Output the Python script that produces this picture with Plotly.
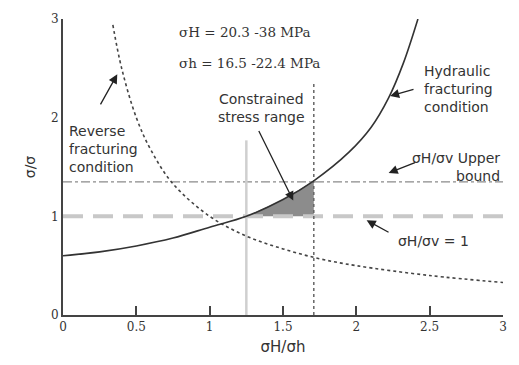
import plotly.graph_objects as go

# Data
hyd_x = [0.0, 0.25, 0.5, 0.75, 1.0, 1.25, 1.5, 1.71, 1.95, 2.10, 2.22, 2.32, 2.42]
hyd_y = [0.60, 0.64, 0.70, 0.78, 0.89, 1.00, 1.17, 1.36, 1.65, 1.90, 2.20, 2.55, 3.00]

rev_x = [0.34, 0.4, 0.5, 0.6, 0.75, 1.0, 1.25, 1.5, 1.75, 2.0, 2.5, 3.0]
rev_y = [2.94, 2.5, 2.0, 1.67, 1.33, 1.0, 0.80, 0.67, 0.57, 0.50, 0.40, 0.33]

unit_ratio = 1.0        # sigmaH/sigmav = 1
upper_bound = 1.35      # sigmaH/sigmav upper bound
range_lo = 1.25
range_hi = 1.71
range_lo_top = 1.77
range_hi_top = 2.37

x_ticks = [0, 0.5, 1, 1.5, 2, 2.5, 3]
x_tick_text = ["0", "0.5", "1", "1.5", "2", "2.5", "3"]
y_ticks = [0, 1, 2, 3]
y_tick_text = ["0", "1", "2", "3"]

fig = go.Figure()

# shaded constrained region
fx = [x for x in hyd_x if range_lo <= x <= range_hi]
fy = [y for x, y in zip(hyd_x, hyd_y) if range_lo <= x <= range_hi]
poly_x = fx + [range_hi, range_lo]
poly_y = fy + [unit_ratio, unit_ratio]
fig.add_trace(go.Scatter(x=poly_x, y=poly_y, fill="toself", fillcolor="#8c8c8c",
                         line=dict(width=0), mode="lines", hoverinfo="skip"))

# horizontal lines
fig.add_trace(go.Scatter(x=[0, 3], y=[unit_ratio, unit_ratio], mode="lines",
                         line=dict(color="#c8c8c8", width=4, dash="20px,10px")))
fig.add_trace(go.Scatter(x=[0, 3], y=[upper_bound, upper_bound], mode="lines",
                         line=dict(color="#8a8a8a", width=1.3, dash="dashdot")))
# vertical lines
fig.add_trace(go.Scatter(x=[range_lo, range_lo], y=[0, range_lo_top], mode="lines",
                         line=dict(color="#cfcfcf", width=2.5)))
fig.add_trace(go.Scatter(x=[range_hi, range_hi], y=[0, range_hi_top], mode="lines",
                         line=dict(color="#666666", width=1.5, dash="dot")))

# curves
fig.add_trace(go.Scatter(x=rev_x, y=rev_y, mode="lines", line_shape="spline",
                         line=dict(color="#444444", width=1.6, dash="dot")))
fig.add_trace(go.Scatter(x=hyd_x, y=hyd_y, mode="lines", line_shape="spline",
                         line=dict(color="#333333", width=1.6)))

serif = "DejaVu Serif"
sans = "DejaVu Sans"
tc = "#333333"

ann = []
def text(x, y, s, font=sans, size=14, align="left", xanchor="left"):
    ann.append(dict(x=x, y=y, xref="x", yref="y", text=s, showarrow=False,
                    font=dict(family=font, size=size, color=tc), align=align,
                    xanchor=xanchor, yanchor="middle"))

def arrow(x, y, ax, ay):
    ann.append(dict(x=x, y=y, xref="x", yref="y", ax=ax, ay=ay, axref="x", ayref="y",
                    text="", showarrow=True, arrowhead=2, arrowsize=1.4, arrowwidth=1.3,
                    arrowcolor="#222222"))

text(0.78, 2.87, "σH = 20.3 -38 MPa", font=serif, size=13.5)
text(0.78, 2.55, "σh = 16.5 -22.4 MPa", font=serif, size=13.5)
text(1.35, 2.10, "Constrained<br>stress range", align="center", xanchor="center")
text(2.45, 2.29, "Hydraulic<br>fracturing<br>condition", align="left")
text(0.03, 1.68, "Reverse<br>fracturing<br>condition", align="left")
text(2.99, 1.50, "σH/σv Upper<br>bound", align="right", xanchor="right")
text(2.27, 0.755, "σH/σv = 1")

arrow(1.57, 1.16, 1.33, 1.88)
arrow(2.23, 2.22, 2.40, 2.29)
arrow(0.37, 2.44, 0.25, 2.12)
arrow(2.22, 1.44, 2.41, 1.55)
arrow(2.07, 0.96, 2.23, 0.83)

fig.update_layout(
    width=519, height=365,
    margin=dict(l=63, r=16, t=17, b=46),
    paper_bgcolor="white", plot_bgcolor="white",
    showlegend=False,
    annotations=ann,
    xaxis=dict(range=[0, 3], tickvals=x_ticks, ticktext=x_tick_text,
               showgrid=False, zeroline=False, showline=True, linecolor="#444444",
               linewidth=2, ticks="inside", ticklen=9, tickwidth=1.5, tickcolor="#444444",
               tickfont=dict(family=serif, size=12, color=tc),
               title=dict(text="σH/σh", font=dict(family=sans, size=15, color=tc), standoff=8)),
    yaxis=dict(range=[0, 3], tickvals=y_ticks, ticktext=y_tick_text,
               showgrid=False, zeroline=False, showline=True, linecolor="#444444",
               linewidth=2, ticks="", tickfont=dict(family=serif, size=12, color=tc),
               title=dict(text="σ/σ", font=dict(family=sans, size=14, color=tc), standoff=12)),
)

fig.write_html("out.html")
